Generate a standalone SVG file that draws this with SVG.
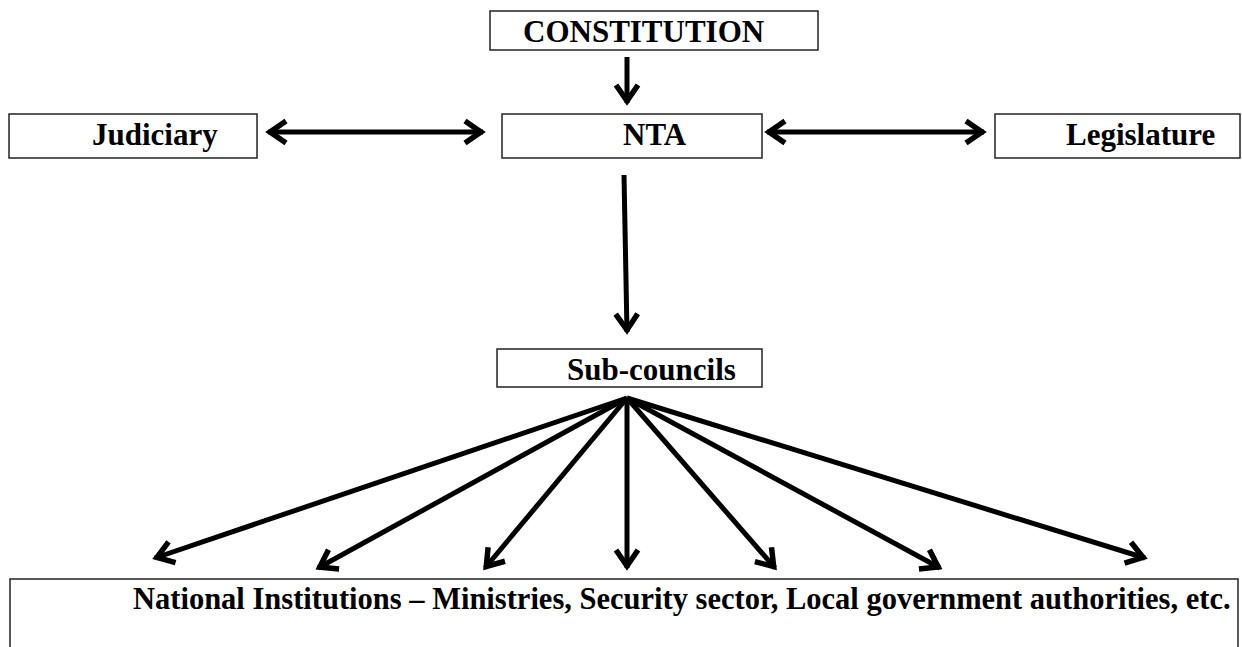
<svg xmlns="http://www.w3.org/2000/svg" width="1242" height="647" viewBox="0 0 1242 647">
<defs>
<style>
.box{fill:#fff;stroke:#222;stroke-width:1.5}
.lbl{font-family:'Liberation Serif','Times New Roman','DejaVu Serif',serif;font-weight:700;font-size:31px;fill:#000}
.con{stroke:#000;stroke-width:5;fill:none}
</style>
<marker id="ah" markerUnits="userSpaceOnUse" viewBox="-25 -15 30 30" markerWidth="30" markerHeight="30" refX="2" refY="0" orient="auto-start-reverse" overflow="visible">
<path d="M-16,-11 L0,0 L-16,11" fill="none" stroke="#000" stroke-width="5.5"/>
</marker>
</defs>
<rect width="1242" height="647" fill="#fff"/>
<g id="constitution"><rect class="box" x="490" y="11" width="328" height="39"/><text class="lbl" x="523" y="42">CONSTITUTION</text></g>
<g id="nta"><rect class="box" x="502" y="114" width="260" height="44"/><text class="lbl" x="623" y="145">NTA</text></g>
<g id="judiciary"><rect class="box" x="9" y="114" width="248" height="44"/><text class="lbl" x="92" y="145">Judiciary</text></g>
<g id="legislature"><rect class="box" x="995" y="114" width="245" height="44"/><text class="lbl" x="1066" y="145">Legislature</text></g>
<g id="subcouncils"><rect class="box" x="497" y="349" width="265" height="38"/><text class="lbl" x="567" y="380">Sub-councils</text></g>
<g id="institutions"><rect class="box" x="10" y="579" width="1228" height="80"/><text class="lbl" x="133" y="609" style="font-size:30.5px">National Institutions – Ministries, Security sector, Local government authorities, etc.</text></g>
<g id="connectors">
<line class="con" x1="627" y1="57" x2="627" y2="103" marker-end="url(#ah)"/>
<line class="con" x1="268" y1="132" x2="483" y2="132" marker-start="url(#ah)" marker-end="url(#ah)"/>
<line class="con" x1="767" y1="132" x2="984" y2="132" marker-start="url(#ah)" marker-end="url(#ah)"/>
<line class="con" x1="624" y1="175" x2="627" y2="332" marker-end="url(#ah)"/>
<line class="con" x1="627" y1="398" x2="155" y2="558" marker-end="url(#ah)"/>
<line class="con" x1="627" y1="398" x2="318" y2="568" marker-end="url(#ah)"/>
<line class="con" x1="627" y1="398" x2="485" y2="568" marker-end="url(#ah)"/>
<line class="con" x1="627" y1="398" x2="627" y2="568" marker-end="url(#ah)"/>
<line class="con" x1="627" y1="398" x2="775" y2="568" marker-end="url(#ah)"/>
<line class="con" x1="627" y1="398" x2="940" y2="568" marker-end="url(#ah)"/>
<line class="con" x1="627" y1="398" x2="1145" y2="558" marker-end="url(#ah)"/>
</g>
</svg>
